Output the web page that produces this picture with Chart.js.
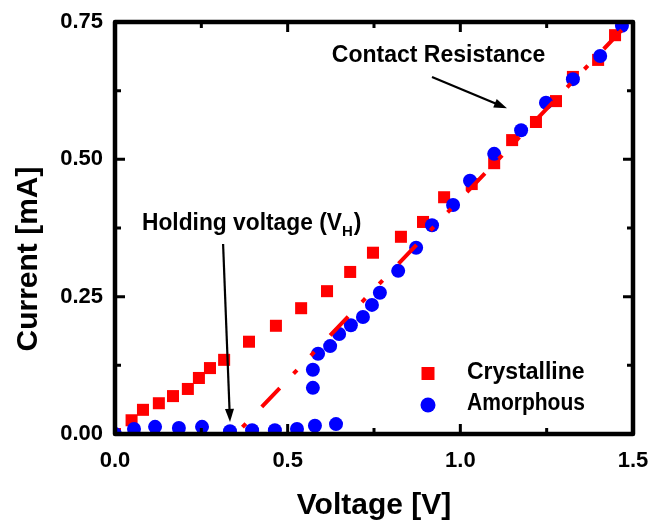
<!DOCTYPE html>
<html>
<head>
<meta charset="utf-8">
<script src="https://cdn.jsdelivr.net/npm/chart.js@4"></script>
<style>
  html, body { margin: 0; padding: 0; background: #fff; }
  canvas { display: block; }
</style>
</head>
<body>
<canvas id="ivChart" width="652" height="531"></canvas>
<script>
// I-V sweep, crystalline vs amorphous state
const voltageCryst = [0.0, 0.048, 0.081, 0.127, 0.168, 0.211, 0.243, 0.275, 0.316, 0.388, 0.466, 0.539, 0.614, 0.681, 0.747, 0.828, 0.892, 0.953, 1.033, 1.098, 1.150, 1.219, 1.277, 1.326, 1.399, 1.448];
const currentCryst = [0.0, 0.025, 0.044, 0.056, 0.069, 0.082, 0.102, 0.120, 0.135, 0.168, 0.197, 0.229, 0.260, 0.295, 0.330, 0.359, 0.386, 0.431, 0.455, 0.493, 0.535, 0.568, 0.606, 0.650, 0.681, 0.726];

const voltageAmor = [0.0, 0.055, 0.116, 0.185, 0.252, 0.333, 0.397, 0.463, 0.527, 0.579, 0.640, 0.573, 0.573, 0.588, 0.623, 0.649, 0.683, 0.718, 0.744, 0.767, 0.820, 0.872, 0.918, 0.979, 1.028, 1.098, 1.176, 1.248, 1.326, 1.405, 1.468];
const currentAmor = [0.0, 0.009, 0.013, 0.011, 0.013, 0.005, 0.007, 0.007, 0.009, 0.015, 0.018, 0.084, 0.117, 0.146, 0.160, 0.182, 0.198, 0.213, 0.235, 0.257, 0.297, 0.339, 0.380, 0.417, 0.461, 0.510, 0.553, 0.603, 0.646, 0.688, 0.743];

// linear fit of the ON branch, extrapolated to V_H
const fitVoltage = [0.35, 1.49];
const fitCurrent = [0.0, 0.75];

const xTickLabels = ['0.0', '0.5', '1.0', '1.5'];
const yTickLabels = ['0.00', '0.25', '0.50', '0.75'];

const FONT = 'Arial, "Liberation Sans", sans-serif';

const pts = (xs, ys) => xs.map((x, i) => ({ x: x, y: ys[i] }));

function arrow(ctx, x1, y1, x2, y2) {
  const a = Math.atan2(y2 - y1, x2 - x1);
  const len = 13, half = 4.5;
  ctx.beginPath();
  ctx.moveTo(x1, y1);
  ctx.lineTo(x2 - len * 0.8 * Math.cos(a), y2 - len * 0.8 * Math.sin(a));
  ctx.stroke();
  ctx.beginPath();
  ctx.moveTo(x2, y2);
  ctx.lineTo(x2 - len * Math.cos(a) + half * Math.sin(a), y2 - len * Math.sin(a) - half * Math.cos(a));
  ctx.lineTo(x2 - len * Math.cos(a) - half * Math.sin(a), y2 - len * Math.sin(a) + half * Math.cos(a));
  ctx.closePath();
  ctx.fill();
}

// box frame with inward ticks, annotations, legend and axis titles
const decorations = {
  id: 'decorations',
  afterDatasetsDraw(chart) {
    const { ctx, chartArea: a, scales: { x, y } } = chart;
    ctx.save();
    ctx.strokeStyle = '#000';
    ctx.fillStyle = '#000';

    ctx.lineWidth = 3;
    ctx.lineCap = 'butt';
    for (let v = 0.25; v < 1.5; v += 0.25) {
      const px = x.getPixelForValue(v);
      const len = Math.abs(v % 0.5) < 1e-6 ? 10 : 6;
      ctx.beginPath();
      ctx.moveTo(px, a.bottom); ctx.lineTo(px, a.bottom - len);
      ctx.moveTo(px, a.top); ctx.lineTo(px, a.top + len);
      ctx.stroke();
    }
    for (let v = 0.125; v < 0.75; v += 0.125) {
      const py = y.getPixelForValue(v);
      const len = Math.abs(v % 0.25) < 1e-6 ? 10 : 6;
      ctx.beginPath();
      ctx.moveTo(a.left, py); ctx.lineTo(a.left + len, py);
      ctx.moveTo(a.right, py); ctx.lineTo(a.right - len, py);
      ctx.stroke();
    }
    ctx.lineWidth = 4.5;
    ctx.lineJoin = 'round';
    ctx.strokeRect(a.left, a.top, a.right - a.left, a.bottom - a.top);

    // annotations
    ctx.lineWidth = 2.2;
    arrow(ctx, x.getPixelForValue(0.918), y.getPixelForValue(0.650),
               x.getPixelForValue(1.135), y.getPixelForValue(0.593));
    arrow(ctx, x.getPixelForValue(0.313), y.getPixelForValue(0.346),
               x.getPixelForValue(0.333), y.getPixelForValue(0.022));

    ctx.textAlign = 'left';
    ctx.textBaseline = 'alphabetic';
    ctx.font = 'bold 23px ' + FONT;
    ctx.fillText('Contact Resistance', x.getPixelForValue(0.628), y.getPixelForValue(0.677), 216);

    const hx = x.getPixelForValue(0.078), hy = y.getPixelForValue(0.371);
    ctx.font = 'bold 23px ' + FONT;
    const main = 'Holding voltage (V';
    ctx.fillText(main, hx, hy, 200);
    const w = Math.min(ctx.measureText(main).width, 200);
    ctx.font = 'bold 15px ' + FONT;
    ctx.fillText('H', hx + w, hy + 6);
    const hw = ctx.measureText('H').width;
    ctx.font = 'bold 23px ' + FONT;
    ctx.fillText(')', hx + w + hw + 1, hy);

    // legend
    const lx = a.left + 313;
    ctx.fillStyle = '#ff0000';
    ctx.fillRect(lx - 6.5, a.top + 345, 13, 13);
    ctx.fillStyle = '#0000ff';
    ctx.beginPath();
    ctx.arc(lx, a.top + 383, 7.5, 0, Math.PI * 2);
    ctx.fill();
    ctx.fillStyle = '#000';
    ctx.font = 'bold 23px ' + FONT;
    ctx.fillText('Crystalline', lx + 39, a.top + 357, 118);
    ctx.fillText('Amorphous', lx + 39, a.top + 388, 118);

    // axis titles
    ctx.font = 'bold 30px ' + FONT;
    ctx.textAlign = 'center';
    ctx.textBaseline = 'middle';
    ctx.fillText('Voltage [V]', (a.left + a.right) / 2, 506, 162);
    ctx.save();
    ctx.translate(29, 259);
    ctx.rotate(-Math.PI / 2);
    ctx.fillText('Current [mA]', 0, 0, 190);
    ctx.restore();

    ctx.restore();
  }
};

new Chart(document.getElementById('ivChart'), {
  type: 'scatter',
  data: {
    datasets: [
      {
        label: 'Fit',
        data: pts(fitVoltage, fitCurrent),
        showLine: true,
        borderColor: '#ff0000',
        borderWidth: 4,
        borderDash: [26, 20, 5, 20, 5, 23],
        borderDashOffset: 61.5,
        pointRadius: 0,
        order: 0
      },
      {
        label: 'Amorphous',
        data: pts(voltageAmor, currentAmor),
        backgroundColor: '#0000ff',
        borderColor: '#0000ff',
        borderWidth: 0,
        pointStyle: 'circle',
        pointRadius: 7,
        clip: 0,
        order: 1
      },
      {
        label: 'Crystalline',
        data: pts(voltageCryst, currentCryst),
        backgroundColor: '#ff0000',
        borderColor: '#ff0000',
        borderWidth: 0,
        pointStyle: 'rect',
        pointRadius: 8.5,
        clip: 0,
        order: 2
      }
    ]
  },
  options: {
    responsive: false,
    animation: false,
    devicePixelRatio: 1,
    layout: { padding: { top: 22, right: 19, left: 0, bottom: 0 } },
    plugins: { legend: { display: false }, tooltip: { enabled: false } },
    scales: {
      x: {
        type: 'linear',
        min: 0,
        max: 1.5,
        grid: { display: false, drawTicks: false },
        border: { display: false },
        ticks: {
          stepSize: 0.5,
          padding: 14,
          color: '#000',
          font: { family: FONT, size: 22, weight: 'bold' },
          callback: (v) => xTickLabels[Math.round(v / 0.5)]
        },
        afterFit: (s) => { s.height = 97; s.paddingLeft = 0; s.paddingRight = 0; }
      },
      y: {
        type: 'linear',
        min: 0,
        max: 0.75,
        grid: { display: false, drawTicks: false },
        border: { display: false },
        ticks: {
          stepSize: 0.25,
          padding: 12,
          color: '#000',
          font: { family: FONT, size: 22, weight: 'bold' },
          callback: (v) => yTickLabels[Math.round(v / 0.25)]
        },
        afterFit: (s) => { s.width = 115; s.paddingTop = 0; s.paddingBottom = 0; }
      }
    }
  },
  plugins: [decorations]
});
</script>
</body>
</html>
